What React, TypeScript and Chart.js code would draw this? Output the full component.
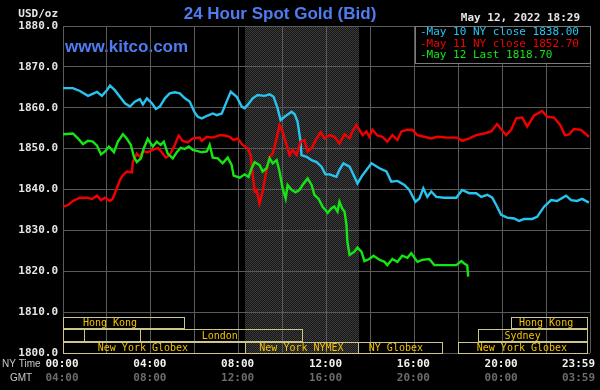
import React, { useEffect, useRef } from 'react';
import { Chart, registerables } from 'chart.js';

Chart.register(...registerables);

// ---- data (NY time in hours, price in USD/oz) ----
const may10Hours = [0, 0.45, 0.77, 1.14, 1.55, 1.77, 2.0, 2.14, 2.36, 2.59, 2.82, 3.05, 3.27, 3.5, 3.64, 3.82, 4.05, 4.23, 4.41, 4.64, 4.86, 5.09, 5.32, 5.55, 5.77, 6.0, 6.14, 6.32, 6.59, 6.82, 7.0, 7.23, 7.45, 7.64, 7.91, 8.14, 8.27, 8.41, 8.64, 8.86, 9.18, 9.41, 9.59, 9.77, 9.91, 10.09, 10.41, 10.55, 10.68, 10.82, 10.86, 11.09, 11.32, 11.55, 11.77, 11.95, 12.14, 12.23, 12.45, 12.59, 12.77, 13.05, 13.27, 13.41, 13.64, 14.05, 14.41, 14.73, 14.95, 15.23, 15.55, 15.77, 16.05, 16.23, 16.41, 16.59, 16.77, 17.0, 17.36, 17.91, 18.18, 18.5, 18.82, 19.05, 19.32, 19.55, 19.73, 19.95, 20.23, 20.55, 20.77, 21.0, 21.36, 21.59, 21.91, 22.23, 22.5, 22.91, 23.14, 23.41, 23.64, 23.95];
const may10Values = [1864.8, 1864.8, 1864.1, 1862.9, 1863.9, 1862.9, 1864.3, 1865.4, 1864.3, 1862.7, 1861.1, 1860.3, 1861.5, 1862.1, 1860.8, 1862.3, 1861.1, 1859.7, 1860.3, 1862.3, 1863.5, 1863.8, 1863.5, 1862.3, 1861.5, 1858.8, 1857.8, 1857.4, 1858.1, 1858.6, 1858.2, 1858.6, 1861.5, 1863.9, 1862.7, 1860.3, 1859.9, 1860.7, 1862.3, 1863.1, 1862.9, 1863.3, 1862.7, 1859.9, 1857.0, 1857.8, 1859.0, 1858.4, 1856.6, 1851.7, 1848.4, 1848.0, 1847.2, 1846.7, 1845.6, 1843.7, 1843.7, 1843.5, 1843.1, 1844.8, 1846.4, 1845.6, 1843.1, 1841.5, 1843.5, 1846.4, 1845.2, 1844.4, 1841.9, 1842.1, 1841.1, 1839.9, 1837.0, 1837.8, 1840.3, 1838.2, 1839.5, 1838.2, 1838.0, 1838.0, 1839.9, 1839.1, 1839.1, 1838.2, 1838.7, 1838.0, 1836.2, 1833.8, 1833.1, 1832.9, 1832.3, 1832.8, 1832.8, 1833.3, 1835.8, 1837.4, 1837.2, 1838.5, 1837.4, 1837.2, 1837.7, 1836.8];

const may11Hours = [0, 0.23, 0.45, 0.77, 1.09, 1.32, 1.55, 1.73, 1.91, 2.14, 2.27, 2.45, 2.59, 2.73, 2.91, 3.14, 3.18, 3.36, 3.5, 3.64, 3.86, 4.09, 4.32, 4.5, 4.68, 4.86, 5.09, 5.27, 5.45, 5.68, 5.91, 6.23, 6.32, 6.55, 6.82, 7.14, 7.36, 7.59, 7.77, 7.95, 8.18, 8.41, 8.55, 8.64, 8.73, 8.82, 8.95, 9.09, 9.27, 9.41, 9.55, 9.73, 9.86, 10.0, 10.18, 10.32, 10.45, 10.64, 10.82, 11.0, 11.14, 11.32, 11.55, 11.73, 11.91, 12.14, 12.36, 12.59, 12.82, 13.05, 13.18, 13.36, 13.5, 13.64, 13.82, 13.95, 14.09, 14.32, 14.55, 14.77, 15.0, 15.23, 15.41, 15.68, 15.91, 16.14, 16.45, 16.77, 17.05, 17.5, 17.95, 18.18, 18.5, 18.82, 19.18, 19.5, 19.77, 20.18, 20.41, 20.64, 20.91, 21.14, 21.45, 21.82, 22.05, 22.36, 22.64, 22.86, 23.05, 23.27, 23.59, 23.95];
const may11Values = [1835.8, 1836.2, 1837.2, 1838.0, 1838.0, 1837.7, 1838.5, 1837.4, 1838.0, 1837.2, 1837.8, 1840.3, 1842.3, 1843.5, 1844.4, 1844.2, 1846.8, 1848.8, 1848.0, 1849.4, 1849.1, 1849.7, 1850.2, 1849.1, 1847.8, 1848.4, 1850.9, 1853.2, 1851.9, 1851.5, 1852.5, 1852.7, 1851.9, 1852.9, 1852.7, 1853.3, 1853.2, 1852.9, 1852.1, 1852.5, 1850.9, 1850.1, 1848.4, 1843.5, 1839.5, 1839.9, 1836.6, 1839.5, 1844.8, 1848.0, 1848.8, 1852.5, 1855.8, 1854.2, 1850.9, 1848.4, 1849.7, 1848.4, 1851.7, 1852.1, 1849.3, 1850.1, 1852.5, 1854.0, 1852.5, 1853.3, 1852.9, 1851.3, 1853.5, 1852.5, 1854.2, 1855.8, 1854.6, 1853.3, 1854.2, 1852.9, 1854.6, 1853.2, 1852.9, 1851.7, 1853.3, 1852.1, 1854.2, 1854.6, 1854.6, 1853.3, 1852.9, 1852.5, 1852.9, 1852.7, 1852.7, 1851.9, 1852.5, 1853.3, 1853.7, 1854.2, 1856.0, 1853.3, 1854.6, 1857.4, 1857.6, 1855.4, 1858.1, 1859.2, 1857.8, 1857.6, 1855.8, 1853.3, 1853.5, 1854.8, 1854.6, 1852.9];

const may12Hours = [0, 0.45, 0.68, 0.91, 1.14, 1.36, 1.55, 1.73, 1.91, 2.09, 2.32, 2.5, 2.73, 2.91, 3.09, 3.23, 3.36, 3.55, 3.68, 3.86, 4.09, 4.27, 4.45, 4.59, 4.77, 5.0, 5.18, 5.36, 5.55, 5.73, 5.91, 6.14, 6.32, 6.55, 6.68, 6.82, 7.05, 7.27, 7.5, 7.68, 7.77, 8.05, 8.27, 8.45, 8.59, 8.73, 8.95, 9.09, 9.27, 9.41, 9.55, 9.73, 9.86, 10.0, 10.14, 10.23, 10.41, 10.59, 10.77, 10.91, 11.14, 11.32, 11.45, 11.64, 11.82, 12.05, 12.23, 12.36, 12.5, 12.59, 12.73, 12.82, 12.91, 12.95, 13.05, 13.27, 13.41, 13.59, 13.73, 13.95, 14.14, 14.41, 14.64, 14.77, 15.0, 15.23, 15.45, 15.68, 15.86, 16.14, 16.36, 16.68, 16.91, 17.36, 17.91, 18.14, 18.27, 18.41, 18.45];
const may12Values = [1853.5, 1853.7, 1852.5, 1851.1, 1851.9, 1851.7, 1850.7, 1848.6, 1849.3, 1850.5, 1849.1, 1851.7, 1853.5, 1852.4, 1850.9, 1848.0, 1846.7, 1847.6, 1850.1, 1852.4, 1850.5, 1851.7, 1850.9, 1851.7, 1848.8, 1847.6, 1849.1, 1850.2, 1849.9, 1850.5, 1849.7, 1849.4, 1849.1, 1849.3, 1850.9, 1847.8, 1847.6, 1846.4, 1847.8, 1846.0, 1843.4, 1842.9, 1843.7, 1843.1, 1845.2, 1846.7, 1846.0, 1844.4, 1845.2, 1847.6, 1846.4, 1847.2, 1844.4, 1840.3, 1837.8, 1841.1, 1839.9, 1839.3, 1839.9, 1841.1, 1842.7, 1841.1, 1838.7, 1837.7, 1835.8, 1834.3, 1835.4, 1835.8, 1834.6, 1837.0, 1835.2, 1834.6, 1831.3, 1827.2, 1824.0, 1824.8, 1825.8, 1824.8, 1822.5, 1823.0, 1823.8, 1822.8, 1822.3, 1821.5, 1823.0, 1822.3, 1823.8, 1823.3, 1824.4, 1822.3, 1822.8, 1823.0, 1821.5, 1821.5, 1821.5, 1822.5, 1821.9, 1821.4, 1818.7];

const legendLabels = ['May 10 NY close 1838.00', 'May 11 NY close 1852.70', 'May 12 Last 1818.70'];
const seriesColors = ['#27c4f0', '#f20000', '#14e614'];

const tickHours = [0, 4, 8, 12, 16, 20, 24];
const nyTimeLabels = ['00:00', '04:00', '08:00', '12:00', '16:00', '20:00', '23:59'];
const gmtLabels = ['04:00', '08:00', '12:00', '16:00', '20:00', '00:00', '03:59'];

const titleText = '24 Hour Spot Gold (Bid)';
const siteText = 'www.kitco.com';
const unitText = 'USD/oz';
const stampText = 'May 12, 2022 18:29';

const nymexStart = 8.28;
const nymexEnd = 13.5;

const sessionNames = ['Hong Kong', '', '', 'London', 'New York Globex', 'New York NYMEX', 'NY Globex', 'New York Globex', 'Hong Kong', 'Sydney'];
const sessionStarts = [0, 0, 0.97, 3.5, 0, 8.28, 13.45, 18.0, 20.42, 18.9];
const sessionEnds = [5.5, 0.97, 3.5, 10.9, 8.28, 13.45, 17.27, 23.86, 23.86, 23.86];
const sessionRows = [0, 1, 1, 1, 2, 2, 2, 2, 0, 1];
const sessionLabelAt = [2.14, 0, 0, 7.14, 3.64, 10.86, 15.16, 20.9, 22.0, 20.93];

const gridColor = '#5a5a5a';
const mono = '"DejaVu Sans Mono", "Liberation Mono", monospace';
const sans = '"Liberation Sans", Arial, sans-serif';

const toPoints = (hs: number[], vs: number[]) => hs.map((h, i) => ({ x: h, y: vs[i] }));

let patternCache: CanvasPattern | null = null;
function shadePattern(ctx: CanvasRenderingContext2D) {
  if (patternCache) return patternCache;
  const c = document.createElement('canvas');
  c.width = 2;
  c.height = 2;
  const p = c.getContext('2d')!;
  p.fillStyle = '#161616';
  p.fillRect(0, 0, 2, 2);
  p.fillStyle = '#3c3c3c';
  p.fillRect(0, 0, 1, 1);
  p.fillRect(1, 1, 1, 1);
  patternCache = ctx.createPattern(c, 'repeat');
  return patternCache!;
}

const decorPlugin = {
  id: 'kitcoDecor',
  beforeDraw(chart: any) {
    const { ctx, chartArea: a, scales } = chart;
    const xs = scales.x;
    ctx.save();
    ctx.fillStyle = '#000';
    ctx.fillRect(0, 0, chart.width, chart.height);
    const x0 = Math.round(xs.getPixelForValue(nymexStart));
    const x1 = Math.round(xs.getPixelForValue(nymexEnd));
    ctx.fillStyle = shadePattern(ctx);
    ctx.fillRect(x0, a.top, x1 - x0, a.bottom - a.top);

    // title texts
    ctx.textBaseline = 'middle';
    ctx.fillStyle = '#4f7cf2';
    ctx.font = `bold 17px ${sans}`;
    ctx.textAlign = 'center';
    ctx.fillText(titleText, 280, 14);
    ctx.font = `bold 17px ${sans}`;
    ctx.textAlign = 'left';
    ctx.fillText(siteText, 65, 47);

    ctx.fillStyle = '#e6e6e6';
    ctx.font = `bold 11px ${mono}`;
    ctx.textAlign = 'right';
    ctx.fillText(unitText, 58, 14);
    ctx.fillText(stampText, 580, 18);
    ctx.restore();
  },
  afterDraw(chart: any) {
    const { ctx, chartArea: a, scales } = chart;
    const xs = scales.x;
    ctx.save();

    // legend box
    const lx = 415;
    const lw = a.right - lx;
    ctx.fillStyle = '#000';
    ctx.fillRect(lx, a.top, lw, 37);
    ctx.strokeStyle = '#7a7a7a';
    ctx.lineWidth = 1;
    ctx.strokeRect(lx + 0.5, a.top + 0.5, lw, 37);
    ctx.font = `11px ${mono}`;
    ctx.textAlign = 'left';
    ctx.textBaseline = 'middle';
    legendLabels.forEach((t, i) => {
      ctx.fillStyle = seriesColors[i];
      ctx.fillText('-' + t, 420, a.top + 6.5 + i * 11.5);
    });

    // session boxes
    const rowTop = [a.bottom - 36, a.bottom - 24, a.bottom - 11];
    const rowH = [11, 12, 11];
    ctx.strokeStyle = '#cfc68a';
    ctx.font = `10px ${mono}`;
    ctx.textAlign = 'center';
    sessionNames.forEach((name, i) => {
      const r = sessionRows[i];
      const sx = Math.round(xs.getPixelForValue(sessionStarts[i]));
      const ex = Math.round(xs.getPixelForValue(sessionEnds[i]));
      ctx.strokeRect(sx + 0.5, rowTop[r] + 0.5, ex - sx, rowH[r]);
      if (name) {
        ctx.fillStyle = '#f2c200';
        ctx.fillText(name, xs.getPixelForValue(sessionLabelAt[i]), rowTop[r] + rowH[r] / 2 + 1);
      }
    });

    // time axis labels
    ctx.font = `bold 11px ${mono}`;
    tickHours.forEach((h, i) => {
      let px = xs.getPixelForValue(h) - 1;
      const w = ctx.measureText(nyTimeLabels[i]).width;
      if (px + w / 2 > 595) px = 595 - w / 2;
      ctx.fillStyle = '#f2f2f2';
      ctx.fillText(nyTimeLabels[i], px, 364);
      ctx.fillStyle = '#6c6c6c';
      ctx.fillText(gmtLabels[i], px, 378);
    });
    ctx.font = `10px ${sans}`;
    ctx.textAlign = 'left';
    ctx.fillStyle = '#c8c8c8';
    ctx.fillText('NY Time', 2, 364);
    ctx.fillText('GMT', 10, 378);
    ctx.restore();
  },
};

export default function App() {
  const ref = useRef<HTMLCanvasElement>(null);
  useEffect(() => {
    const chart = new Chart(ref.current!, {
      type: 'line',
      data: {
        datasets: [
          { label: legendLabels[2], data: toPoints(may12Hours, may12Values), borderColor: seriesColors[2] },
          { label: legendLabels[1], data: toPoints(may11Hours, may11Values), borderColor: seriesColors[1] },
          { label: legendLabels[0], data: toPoints(may10Hours, may10Values), borderColor: seriesColors[0] },
        ],
      },
      options: {
        responsive: false,
        animation: false,
        layout: { padding: { left: 0, top: 26, right: 10, bottom: 37 } },
        plugins: { legend: { display: false }, tooltip: { enabled: false } },
        elements: { point: { radius: 0 }, line: { borderWidth: 2.4, tension: 0 } },
        scales: {
          x: {
            type: 'linear',
            min: 0,
            max: 24,
            ticks: { display: false, stepSize: 2 },
            grid: { color: gridColor, drawTicks: false },
            border: { display: false },
            afterFit: (s: any) => { s.height = 0; },
          },
          y: {
            min: 1800,
            max: 1880,
            ticks: {
              stepSize: 10,
              padding: 5,
              color: '#e6e6e6',
              font: { family: mono, size: 11, weight: 'bold' },
              callback: (v: any) => Number(v).toFixed(1),
            },
            grid: { color: gridColor, drawTicks: false },
            border: { display: false },
            afterFit: (s: any) => { s.width = 63; },
          },
        },
      } as any,
      plugins: [decorPlugin],
    });
    return () => chart.destroy();
  }, []);
  return (
    <div style={{ position: 'fixed', left: 0, top: 0, width: 600, height: 390, background: '#000' }}>
      <canvas ref={ref} width={600} height={390} style={{ display: 'block' }} />
    </div>
  );
}
